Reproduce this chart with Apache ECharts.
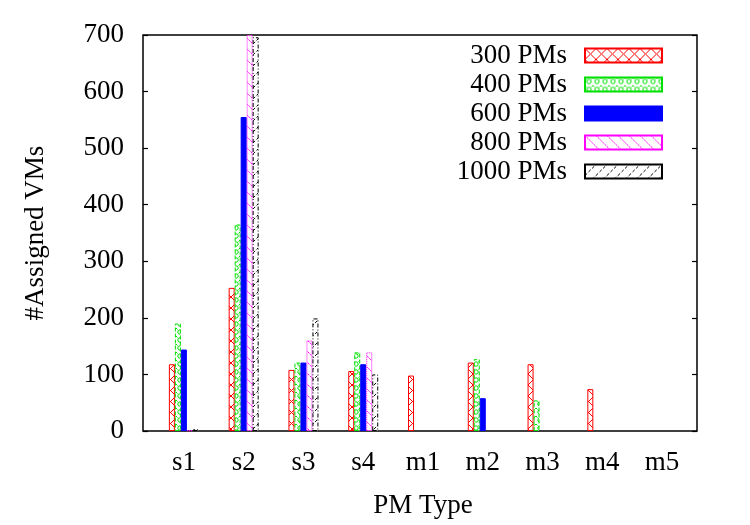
<!DOCTYPE html>
<html>
<head>
<meta charset="utf-8">
<script src="https://cdn.jsdelivr.net/npm/echarts@6/dist/echarts.min.js"></script>
<style>
  html, body { margin: 0; padding: 0; background: #fff; }
  #chart { width: 750px; height: 525px; }
</style>
</head>
<body>
<div id="chart"></div>
<script>
const pmTypes = ['s1', 's2', 's3', 's4', 'm1', 'm2', 'm3', 'm4', 'm5'];
const seriesNames = ['300 PMs', '400 PMs', '600 PMs', '800 PMs', '1000 PMs'];
// null = no bar drawn for that PM type
const pm300 = [118, 253, 108, 106, 98, 121, 118, 74, null];
const pm400 = [190, 365, 121, 139, null, 127, 54, null, null];
const pm600 = [144, 555, 121, 118, null, 58, null, null, null];
const pm800 = [1, 700, 160, 139, null, null, null, null, null];
const pm1000 = [3, 696, 199, 100, null, null, null, null, null];
const yTicks = [0, 100, 200, 300, 400, 500, 600, 700];

const FONT = '"Liberation Serif", "DejaVu Serif", serif';
const FS = 27;

// small canvas tiles to imitate gnuplot fill patterns
function pattern(size, stroke, draw) {
  const c = document.createElement('canvas');
  c.width = size; c.height = size;
  const ctx = c.getContext('2d');
  ctx.fillStyle = '#fff';
  ctx.fillRect(0, 0, size, size);
  ctx.strokeStyle = stroke;
  ctx.lineWidth = 1;
  draw(ctx, size);
  return { image: c, repeat: 'repeat' };
}

const crossRed = pattern(11, '#ff0000', (ctx, s) => {
  ctx.beginPath();
  ctx.moveTo(0, 0); ctx.lineTo(s, s);
  ctx.moveTo(s, 0); ctx.lineTo(0, s);
  ctx.stroke();
});
const dotGreen = pattern(8, '#00e000', (ctx, s) => {
  ctx.beginPath();
  ctx.arc(4, 4, 2.2, 0, Math.PI * 2);
  ctx.stroke();
  ctx.beginPath();
  ctx.moveTo(0, 0); ctx.lineTo(1.5, 1.5);
  ctx.moveTo(s, 0); ctx.lineTo(s - 1.5, 1.5);
  ctx.stroke();
});
const backMagenta = pattern(11, '#ff00ff', (ctx, s) => {
  ctx.setLineDash([2, 1]);
  ctx.beginPath();
  ctx.moveTo(0, 0); ctx.lineTo(s, s);
  ctx.stroke();
});
const slashBlack = pattern(11, '#000000', (ctx, s) => {
  ctx.setLineDash([3, 2]);
  ctx.beginPath();
  ctx.moveTo(0, s); ctx.lineTo(s, 0);
  ctx.stroke();
});

const styles = [
  { color: crossRed, borderColor: '#ff0000', borderWidth: 1, borderType: 'solid' },
  { color: dotGreen, borderColor: '#00e000', borderWidth: 1, borderType: 'dashed' },
  { color: '#0000ff', borderColor: '#0000ff', borderWidth: 1, borderType: 'solid' },
  { color: backMagenta, borderColor: '#ff00ff', borderWidth: 1, borderType: 'dotted' },
  { color: slashBlack, borderColor: '#000000', borderWidth: 1, borderType: [4, 2, 1, 2] }
];
const values = [pm300, pm400, pm600, pm800, pm1000];

const chart = echarts.init(document.getElementById('chart'), null, { renderer: 'canvas' });

const legendTops = [42, 71, 100, 129, 158];

const option = {
  animation: false,
  backgroundColor: '#fff',
  textStyle: { fontFamily: FONT },
  grid: [
    { left: 143, right: 53, top: 35, bottom: 94, show: true, borderColor: '#000', borderWidth: 1.5, backgroundColor: 'transparent' },
    { left: 154, right: 58, top: 35, bottom: 94 }
  ],
  legend: seriesNames.map((n, i) => ({
    data: [n],
    right: 87,
    top: legendTops[i],
    align: 'right',
    padding: 0,
    icon: 'rect',
    itemWidth: 77,
    itemHeight: 14,
    selectedMode: false,
    textStyle: { fontFamily: FONT, fontSize: FS, color: '#000', padding: [0, 13, 0, 0] }
  })),
  xAxis: [
    { gridIndex: 0, type: 'value', min: 0, max: 1, show: false },
    {
      gridIndex: 1, type: 'category', data: pmTypes, position: 'bottom',
      axisLine: { show: false },
      axisTick: { inside: true, alignWithLabel: true, length: 5, lineStyle: { color: '#000', width: 1.2 } },
      axisLabel: { fontFamily: FONT, fontSize: FS, color: '#000', margin: 18 },
      name: 'PM Type', nameLocation: 'middle', nameGap: 61,
      nameTextStyle: { fontFamily: FONT, fontSize: FS, color: '#000' }
    },
    {
      gridIndex: 1, type: 'category', data: pmTypes, position: 'top',
      axisLine: { show: false },
      axisTick: { inside: true, alignWithLabel: true, length: 5, lineStyle: { color: '#000', width: 1.2 } },
      axisLabel: { show: false }
    }
  ],
  yAxis: [
    {
      gridIndex: 0, type: 'value', min: 0, max: 700, interval: 100, position: 'left',
      axisLine: { show: false },
      splitLine: { show: false },
      axisTick: { show: true, inside: true, length: 5, lineStyle: { color: '#000', width: 1.2 } },
      axisLabel: { fontFamily: FONT, fontSize: FS, color: '#000', margin: 19,
        customValues: yTicks },
      name: '#Assigned VMs', nameLocation: 'middle', nameGap: 94, nameRotate: 90,
      nameTextStyle: { fontFamily: FONT, fontSize: FS, color: '#000' }
    },
    {
      gridIndex: 0, type: 'value', min: 0, max: 700, interval: 100, position: 'right',
      axisLine: { show: false },
      splitLine: { show: false },
      axisTick: { show: true, inside: true, length: 5, lineStyle: { color: '#000', width: 1.2 } },
      axisLabel: { show: false }
    },
    { gridIndex: 1, type: 'value', min: 0, max: 700, show: false, splitLine: { show: false } }
  ],
  series: seriesNames.map((n, i) => ({
    name: n,
    type: 'bar',
    xAxisIndex: 1,
    yAxisIndex: 2,
    barWidth: 6,
    barGap: '0%',
    clip: true,
    itemStyle: styles[i],
    emphasis: { disabled: true },
    data: values[i]
  }))
};

chart.setOption(option);
</script>
</body>
</html>
